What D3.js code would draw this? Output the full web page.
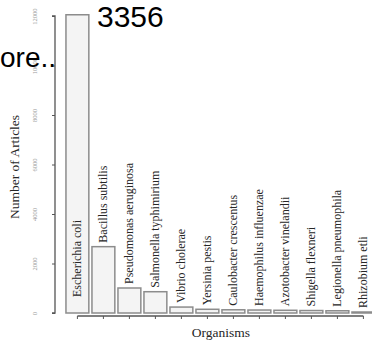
<!DOCTYPE html>
<html>
<head>
<meta charset="utf-8">
<script src="https://cdn.jsdelivr.net/npm/d3@7"></script>
<style>
  html, body { margin: 0; padding: 0; background: #fff; }
  svg { display: block; }
</style>
</head>
<body>
<svg id="chart" width="372" height="341"></svg>
<script>
// Articles per organism
const organisms = [
  "Escherichia coli", "Bacillus subtilis", "Pseudomonas aeruginosa",
  "Salmonella typhimirium", "Vibrio cholerae", "Yersinia pestis",
  "Caulobacter crescentus", "Haemophilus influenzae", "Azotobacter vinelandii",
  "Shigella flexneri", "Legionella pneumophila", "Rhizobium etli"
];
const articles = [12050, 2680, 1010, 860, 240, 150, 130, 120, 110, 100, 90, 40];
const yTicks = [0, 2000, 4000, 6000, 8000, 10000, 12000];
const overlayNumber = "3356";
const overlayWord = "ore..";

const svg = d3.select("#chart");
const serif = "'Liberation Serif', 'DejaVu Serif', serif";

const x = d3.scaleBand()
  .domain(organisms)
  .range([64.4, 376.4])
  .paddingInner(0.12)
  .paddingOuter(0.06);

const y = d3.scaleLinear().domain([0, 12000]).range([313, 16]);

// bars
svg.append("g").selectAll("rect")
  .data(organisms)
  .join("rect")
  .attr("x", d => x(d))
  .attr("y", (d, i) => y(articles[i]))
  .attr("width", x.bandwidth())
  .attr("height", (d, i) => y(0) - y(articles[i]))
  .attr("fill", "#f4f4f4")
  .attr("stroke", "#8c8c8c")
  .attr("stroke-width", 1.5);

// bar labels (vertical)
svg.append("g").selectAll("text")
  .data(organisms)
  .join("text")
  .attr("transform", (d, i) => {
    const cx = x(d) + x.bandwidth() / 2 + 4;
    const base = i === 0 ? 297 : y(articles[i]) - 4;
    return `translate(${cx},${base}) rotate(-90)`;
  })
  .attr("font-family", serif)
  .attr("font-size", 12)
  .attr("fill", "#262626")
  .text(d => d);

// y axis
const yAxis = svg.append("g")
  .attr("transform", "translate(55,0)")
  .call(d3.axisLeft(y).tickValues(yTicks).tickSize(3).tickPadding(0).tickFormat(d3.format("d")));
yAxis.select(".domain").attr("stroke", "#555").attr("stroke-width", 1.3)
  .attr("d", `M-3,${y(12000)}H0V${y(0)}H-3`);
yAxis.selectAll(".tick line").attr("stroke", "#555");
yAxis.selectAll(".tick text")
  .attr("font-family", serif)
  .attr("font-size", 6.5)
  .attr("fill", "#999")
  .attr("text-anchor", "middle")
  .attr("x", null).attr("dy", null)
  .attr("transform", "translate(-19,0) rotate(-90)")
  .attr("dominant-baseline", "middle");

// x axis
const xAxis = svg.append("g")
  .attr("transform", "translate(0,316)")
  .call(d3.axisBottom(x).tickSize(3).tickFormat(""));
const xFirst = x(organisms[0]) + x.bandwidth() / 2;
const xLast = x(organisms[organisms.length - 1]) + x.bandwidth() / 2;
xAxis.select(".domain").attr("stroke", "#555").attr("stroke-width", 1.3)
  .attr("d", `M${xFirst},0H${xLast}`);
xAxis.selectAll(".tick line").attr("stroke", "#555");

// axis titles
svg.append("text")
  .attr("transform", "translate(19,167) rotate(-90)")
  .attr("text-anchor", "middle")
  .attr("font-family", serif)
  .attr("font-size", 13.5)
  .attr("fill", "#262626")
  .text("Number of Articles");

svg.append("text")
  .attr("x", 221).attr("y", 337)
  .attr("text-anchor", "middle")
  .attr("font-family", serif)
  .attr("font-size", 13.5)
  .attr("fill", "#262626")
  .text("Organisms");

// overlaid caption text
const sans = "'Liberation Sans', Arial, sans-serif";
svg.append("text")
  .attr("x", 97).attr("y", 27)
  .attr("font-family", sans)
  .attr("font-size", 30)
  .attr("fill", "#000")
  .text(overlayNumber);
svg.append("text")
  .attr("x", 0).attr("y", 67)
  .attr("font-family", sans)
  .attr("font-size", 28)
  .attr("fill", "#000")
  .text(overlayWord);
</script>
</body>
</html>
